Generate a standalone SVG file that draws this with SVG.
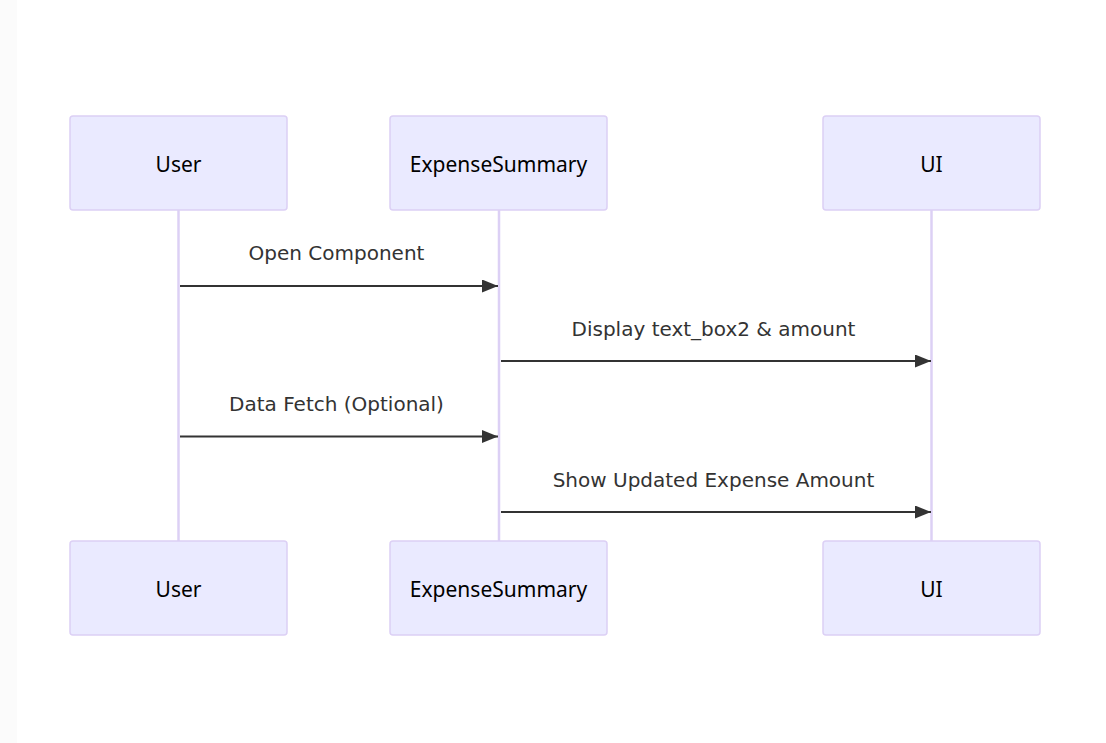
<svg xmlns="http://www.w3.org/2000/svg" width="1106" height="743" viewBox="0 0 1106 743">
<style>
.actor rect{fill:#eaeaff;stroke:#dcd0f5;stroke-width:1.5}
.actor text{font-family:"Noto Sans","Open Sans",sans-serif;font-size:21px;fill:#000;text-anchor:middle;dominant-baseline:central}
.life{stroke:#dcd0f5;stroke-width:2.5}
.msg{stroke:#333;stroke-width:2;fill:none;marker-end:url(#ah)}
.lbl{font-family:"DejaVu Sans",sans-serif;font-size:20px;fill:#333;text-anchor:middle}
</style>
<defs>
<marker id="ah" viewBox="0 0 16 13" refX="16" refY="6.5" markerWidth="16" markerHeight="13" markerUnits="userSpaceOnUse" orient="auto">
<path d="M0,0 L16,6.5 L0,13 Z" fill="#333"/>
</marker>
</defs>
<rect x="0" y="0" width="1106" height="743" fill="#fff"/>
<rect x="0" y="0" width="17" height="743" fill="#fbfbfb"/>
<g id="lifelines">
<line class="life" x1="178.5" y1="210" x2="178.5" y2="541"/>
<line class="life" x1="499" y1="210" x2="499" y2="541"/>
<line class="life" x1="931.5" y1="210" x2="931.5" y2="541"/>
</g>
<g id="actor-user-top" class="actor"><rect x="70" y="116" width="217" height="94" rx="3"/><text x="178.5" y="164">User</text></g>
<g id="actor-es-top" class="actor"><rect x="390" y="116" width="217" height="94" rx="3"/><text x="498.5" y="164">ExpenseSummary</text></g>
<g id="actor-ui-top" class="actor"><rect x="823" y="116" width="217" height="94" rx="3"/><text x="931.5" y="164">UI</text></g>
<g id="actor-user-bottom" class="actor"><rect x="70" y="541" width="217" height="94" rx="3"/><text x="178.5" y="589">User</text></g>
<g id="actor-es-bottom" class="actor"><rect x="390" y="541" width="217" height="94" rx="3"/><text x="498.5" y="589">ExpenseSummary</text></g>
<g id="actor-ui-bottom" class="actor"><rect x="823" y="541" width="217" height="94" rx="3"/><text x="931.5" y="589">UI</text></g>
<g id="connectors">
<line class="msg" x1="180" y1="286" x2="498" y2="286"/>
<text class="lbl" x="336.5" y="260">Open Component</text>
<line class="msg" x1="501" y1="361" x2="931" y2="361"/>
<text class="lbl" x="713.5" y="336">Display text_box2 &amp; amount</text>
<line class="msg" x1="180" y1="436.5" x2="498" y2="436.5"/>
<text class="lbl" x="336.5" y="411">Data Fetch (Optional)</text>
<line class="msg" x1="501" y1="512" x2="931" y2="512"/>
<text class="lbl" x="713.5" y="487">Show Updated Expense Amount</text>
</g>
</svg>
